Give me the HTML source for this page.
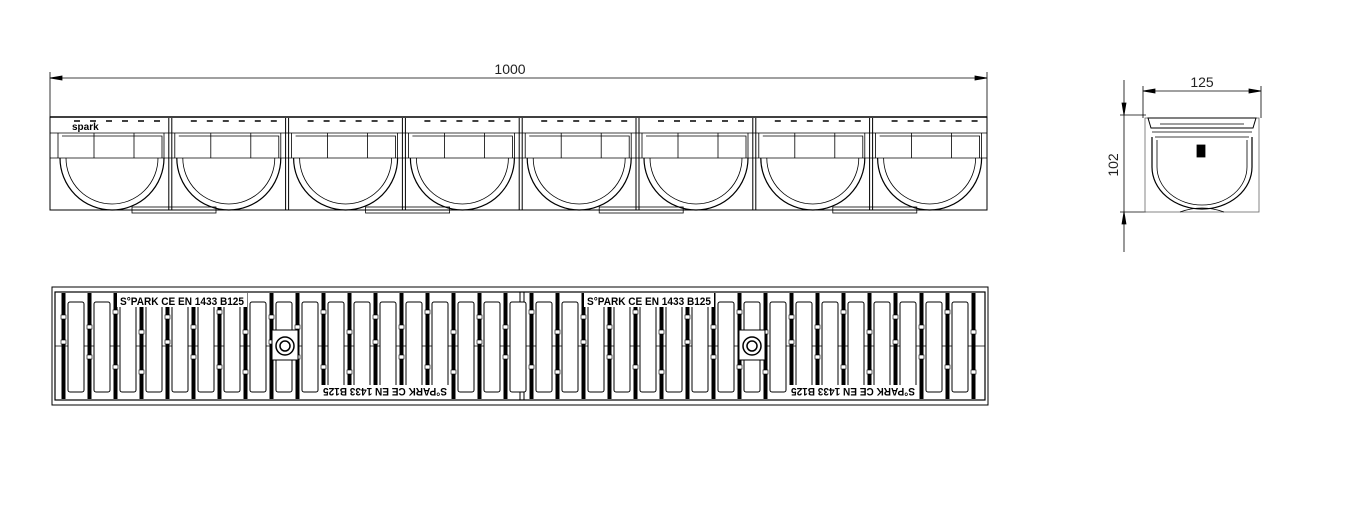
<!DOCTYPE html>
<html><head><meta charset="utf-8"><style>
html,body{margin:0;padding:0;background:#fff;width:1347px;height:508px;overflow:hidden}
svg{display:block}
text{font-family:"Liberation Sans",sans-serif}
</style></head><body>
<svg id="s" width="1347" height="508" viewBox="0 0 1347 508" xmlns="http://www.w3.org/2000/svg">
<g stroke="#000" fill="none" stroke-width="0.8">
<line x1="50" y1="72" x2="50" y2="118"/><line x1="987" y1="72" x2="987" y2="118"/>
<line x1="50" y1="78" x2="987" y2="78"/>
<path d="M50 78 l12 -2 v4z M987 78 l-12 -2 v4z" fill="#000"/>
<rect x="50" y="117" width="937" height="93" stroke-width="1"/>
<line x1="50" y1="133" x2="987" y2="133"/>
<line x1="50" y1="117" x2="987" y2="117" stroke-width="1.5"/>
<line x1="50" y1="158" x2="987" y2="158"/>
</g>
<g id="side" stroke="#000" fill="none" stroke-width="0.8"></g>
<text x="72" y="130" font-size="10" font-weight="bold">spark</text>
<text x="510" y="74" font-size="14" text-anchor="middle" fill="#222">1000</text>
<g stroke="#000" fill="none" stroke-width="0.8">
<line x1="1143" y1="86" x2="1143" y2="118"/><line x1="1261" y1="86" x2="1261" y2="118"/>
<line x1="1143" y1="91" x2="1261" y2="91"/>
<path d="M1143 91 l12 -2 v4z M1261 91 l-12 -2 v4z" fill="#000"/>
<line x1="1124" y1="80" x2="1124" y2="252"/>
<line x1="1120" y1="115" x2="1146" y2="115"/><line x1="1120" y1="212" x2="1146" y2="212"/>
<path d="M1124 115 l-2 -12 h4z M1124 212 l-2 12 h4z" fill="#000"/>
<rect x="1145" y="118" width="114" height="94" stroke="#666"/>
<path d="M1148 118 h108 l-3 10 h-102z" stroke-width="1"/>
<path d="M1160 124 h84 M1152 132 h100 M1155 137 h94"/>
<path d="M1152 137 v30 a50 42 0 0 0 100 0 v-30" stroke-width="1.2"/>
<path d="M1157 140 v27 a45 38 0 0 0 90 0 v-27"/>
<rect x="1197" y="145" width="8" height="12" fill="#000"/>
<path d="M1180 212 q22 -8 44 0"/>
</g>
<text x="1202" y="87" font-size="14" text-anchor="middle" fill="#222">125</text>
<text transform="translate(1118,165) rotate(-90)" font-size="14" text-anchor="middle" fill="#222">102</text>
<g stroke="#000" fill="none">
<rect x="52" y="287" width="936" height="118" stroke-width="1"/>
<rect x="55" y="292" width="930" height="108" stroke-width="1.2"/>
<line x1="55" y1="346" x2="985" y2="346" stroke-width="0.8"/>
<line x1="520" y1="292" x2="520" y2="400" stroke-width="1"/>
<line x1="524" y1="292" x2="524" y2="400" stroke-width="1"/>
</g>
<g id="tv"></g>
<g font-size="11" font-weight="bold" fill="#000">
<rect x="117" y="293" width="130" height="14" fill="#fff"/>
<text x="120" y="305" textLength="124" lengthAdjust="spacingAndGlyphs">S°PARK CE EN 1433 B125</text>
<rect x="584" y="293" width="130" height="14" fill="#fff"/>
<text x="587" y="305" textLength="124" lengthAdjust="spacingAndGlyphs">S°PARK CE EN 1433 B125</text>
<rect x="320" y="385" width="130" height="14" fill="#fff"/>
<text transform="translate(447,388) rotate(180)" textLength="124" lengthAdjust="spacingAndGlyphs">S°PARK CE EN 1433 B125</text>
<rect x="788" y="385" width="130" height="14" fill="#fff"/>
<text transform="translate(915,388) rotate(180)" textLength="124" lengthAdjust="spacingAndGlyphs">S°PARK CE EN 1433 B125</text>
</g>
</svg>
<script>
(function(){
var NS="http://www.w3.org/2000/svg";
function el(p,t,a){var e=document.createElementNS(NS,t);for(var k in a)e.setAttribute(k,a[k]);p.appendChild(e);return e;}
var side=document.getElementById('side');
for(var i=0;i<8;i++){
 var x0=54+i*116.8;
 el(side,'path',{d:'M'+(x0+4)+' 133 v25 M'+(x0+110)+' 133 v25 M'+(x0+40)+' 133 v25 M'+(x0+80)+' 133 v25'});
 el(side,'path',{d:'M'+(x0+6)+' 158 a52 52 0 0 0 104 0',"stroke-width":1.2});
 el(side,'path',{d:'M'+(x0+12)+' 158 a46 46 0 0 0 92 0'});
 el(side,'path',{d:'M'+(x0+8)+' 136 h100 v22'});
 if(i%2==0){el(side,'rect',{x:x0+78,y:207,width:84,height:6});}
 if(i>0){el(side,'path',{d:'M'+(x0-2)+' 118 v92 M'+(x0+1)+' 118 v92',"stroke-width":1});}
 for(var k=0;k<6;k++)el(side,'path',{d:'M'+(x0+20+k*16)+' 121 h6',"stroke-width":1.5});
}
var tv=document.getElementById('tv');
for(var x=63;x<985;x+=26){
 if(x+18<983)el(tv,'rect',{x:x+5,y:302,width:16,height:90,rx:2,fill:'#fff',stroke:'#000','stroke-width':1});
}
for(var x=63,j=0;x<985;x+=26,j++){
 el(tv,'rect',{x:x-1.5,y:293,width:4,height:106,fill:'#000'});
 var ys=[[315,340],[325,355],[310,365],[330,370]][j%4];
 for(var q=0;q<ys.length;q++)el(tv,'rect',{x:x-2,y:ys[q],width:5,height:4,fill:'#fff',stroke:'#000','stroke-width':0.6});
}
[285,752].forEach(function(cx){
 el(tv,'rect',{x:cx-13,y:330,width:26,height:30,fill:'#fff',stroke:'#000'});
 el(tv,'circle',{cx:cx,cy:346,r:9,fill:'#fff',stroke:'#000','stroke-width':1.5});
 el(tv,'circle',{cx:cx,cy:346,r:5,fill:'none',stroke:'#000','stroke-width':1.5});
});
})();
</script>
</body></html>
